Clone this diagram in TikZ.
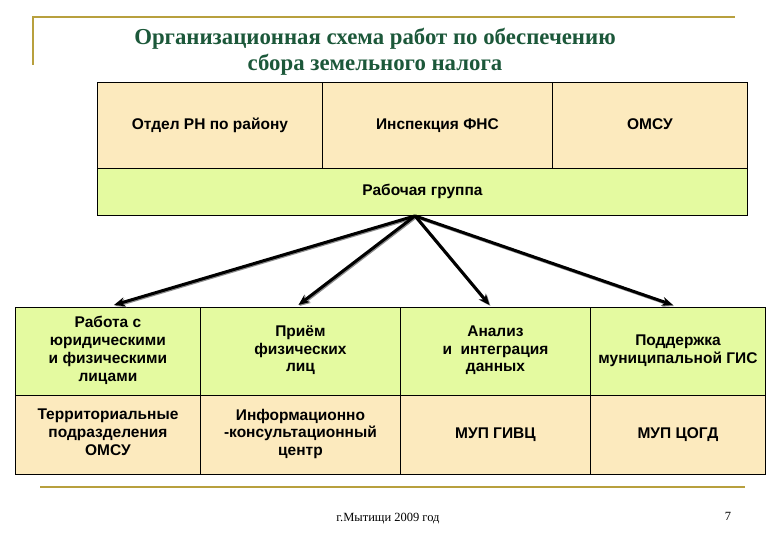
\documentclass[tikz,border=0pt]{standalone}
\usepackage{fontspec}
\setmainfont{Liberation Serif}
\newfontfamily\cellfont{Liberation Sans}
\usetikzlibrary{arrows.meta,calc}
\definecolor{cellTan}{RGB}{252,234,190}
\definecolor{cellGreen}{RGB}{228,250,160}
\definecolor{titleGreen}{RGB}{28,88,58}
\definecolor{goldLine}{RGB}{184,160,62}
\begin{document}
\begin{tikzpicture}[x=1pt,y=-1pt,
  cell/.style={draw=black, line width=0.9pt, anchor=north west, inner sep=0pt,
    align=center, font=\cellfont\bfseries\fontsize{15.5}{17.8}\selectfont,
    execute at begin node=\strut, execute at end node=\strut},
  tancell/.style={cell, fill=cellTan},
  greencell/.style={cell, fill=cellGreen},
  lowtext/.style={execute at begin node=\rule[-8pt]{0pt}{8pt}\strut},
  titletext/.style={align=center, text=titleGreen, font=\bfseries\fontsize{22.8}{26.5}\selectfont},
  deco/.style={draw=goldLine, line width=2.2pt},
  arrowline/.style={line width=3pt, -{Stealth[length=11pt,width=9pt]}},
  shadowline/.style={line width=3pt, draw=black!45, -{Stealth[length=11pt,width=9pt]}},
  foottext/.style={font=\fontsize{12.5}{14}\selectfont}
]
\useasboundingbox (0,0) rectangle (780,540);

% decoration lines
\draw[deco] (33,65) -- (33,17) -- (735,17);
\draw[deco, line width=2.6pt] (40,487) -- (745,487);

% title
\node[titletext] (title) at (375,52) {Организационная схема работ по обеспечению\\сбора земельного налога};

% top table
\node[tancell, minimum width=225pt, minimum height=86pt] (a1) at (97,82) {Отдел РН по району};
\node[tancell, minimum width=230pt, minimum height=86pt] (a2) at (322,82) {Инспекция ФНС};
\node[tancell, minimum width=195pt, minimum height=86pt] (a3) at (552,82) {ОМСУ};
\node[greencell, minimum width=650pt, minimum height=47pt] (wg) at (97,168) {Рабочая группа};

% bottom table, row 1
\node[greencell, minimum width=185pt, minimum height=88pt] (b1) at (15,307) {Работа с\\юридическими\\и физическими\\лицами};
\node[greencell, minimum width=200pt, minimum height=88pt] (b2) at (200,307) {Приём\\физических\\лиц};
\node[greencell, minimum width=190pt, minimum height=88pt] (b3) at (400,307) {Анализ\\и\ \ интеграция\\данных};
\node[greencell, minimum width=175pt, minimum height=88pt] (b4) at (590,307) {Поддержка\\муниципальной ГИС};
% bottom table, row 2
\node[tancell, minimum width=185pt, minimum height=79pt] (c1) at (15,395) {Территориальные\\подразделения\\ОМСУ};
\node[tancell, minimum width=200pt, minimum height=79pt] (c2) at (200,395) {Информационно\\-консультационный\\центр};
\node[tancell, minimum width=190pt, minimum height=79pt] (c3) at (400,395) {МУП ГИВЦ};
\node[tancell, minimum width=175pt, minimum height=79pt] (c4) at (590,395) {МУП ЦОГД};

% arrows
\coordinate (src) at ($(wg.south west)+(318,0)$);
\coordinate (t1) at ($(b1.north)+(6,-2)$);
\coordinate (t2) at ($(b2.north)+(-2,-2)$);
\coordinate (t3) at ($(b3.north)+(-6,-2)$);
\coordinate (t4) at ($(b4.north)+(-5,-2)$);
\foreach \t in {t1,t2,t3,t4}{
  \draw[shadowline] ($(src)+(1,1)$) -- ($(\t)+(1,1)$);
}
\foreach \t in {t1,t2,t3,t4}{
  \draw[arrowline] (src) -- (\t);
}

% footer
\node[foottext] (foot) at (388,519) {г.Мытищи 2009 год};
\node[foottext] (page) at (728,516) {7};
\end{tikzpicture}
\end{document}
